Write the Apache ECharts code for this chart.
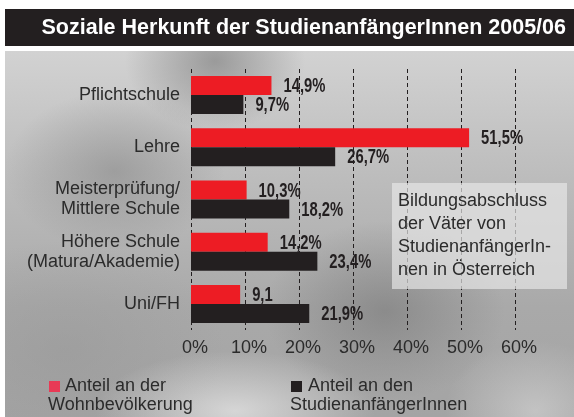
<!DOCTYPE html>
<html>
<head>
<meta charset="utf-8">
<script src="https://cdn.jsdelivr.net/npm/echarts@6/dist/echarts.min.js"></script>
<style>
    html, body { margin: 0; padding: 0; background: #fff; }
    #wrap { position: relative; width: 574px; height: 417px; background: #fff; overflow: hidden; }
    /* grauer Fotohintergrund, grob nachgebaut */
    #panel {
        position: absolute; left: 5px; top: 51px; width: 569px; height: 366px;
        background:
            radial-gradient(ellipse 90px 70px at 210px 10px, rgba(110,110,110,.55), rgba(110,110,110,0)),
            radial-gradient(ellipse 110px 80px at 110px 120px, rgba(120,120,120,.45), rgba(120,120,120,0)),
            radial-gradient(ellipse 140px 60px at 230px 360px, rgba(235,235,235,.7), rgba(235,235,235,0)),
            radial-gradient(ellipse 120px 90px at 380px 260px, rgba(110,110,110,.5), rgba(110,110,110,0)),
            radial-gradient(ellipse 90px 70px at 530px 360px, rgba(220,220,220,.55), rgba(220,220,220,0)),
            radial-gradient(ellipse 160px 110px at 60px 300px, rgba(150,150,150,.5), rgba(150,150,150,0)),
            linear-gradient(to bottom, #d2d2d2 0%, #bcbcbc 35%, #a9a9a9 70%, #a4a4a4 100%);
    }
    #chart { position: absolute; left: 0; top: 0; width: 574px; height: 417px; }
</style>
</head>
<body>
<div id="wrap">
    <div id="panel"></div>
    <div id="chart"></div>
</div>
<script>
    // Daten
    var categories = ['Pflichtschule', 'Lehre', 'Meisterprüfung/\nMittlere Schule', 'Höhere Schule\n(Matura/Akademie)', 'Uni/FH'];
    var popValues = [14.9, 51.5, 10.3, 14.2, 9.1];     // Anteil an der Wohnbevölkerung
    var stuValues = [9.7, 26.7, 18.2, 23.4, 21.9];     // Anteil an den StudienanfängerInnen
    var popLabels = ['14,9%', '51,5%', '10,3%', '14,2%', '9,1'];
    var stuLabels = ['9,7%', '26,7%', '18,2%', '23,4%', '21,9%'];
    var xTicks = [0, 60, 10]; // min, max, interval

    var RED = '#ed1c24';
    var BLACK = '#231f20';
    var TXT = '#2b2b2b';
    var FONT = '"Liberation Sans", Arial, sans-serif';
    var BAR_W = 19;

    var myChart = echarts.init(document.getElementById('chart'));

    // schmale fette Wertebeschriftung (Schrift wird horizontal gestaucht)
    function labelSeries(values, texts, shift) {
        return {
            type: 'custom',
            silent: true,
            z: 4,
            data: values.map(function (v, i) { return [v, i]; }),
            encode: { x: 0, y: 1 },
            renderItem: function (params, api) {
                var pt = api.coord([api.value(0), api.value(1)]);
                return {
                    type: 'text',
                    x: pt[0] + 12,
                    y: pt[1] + shift,
                    scaleX: 0.74,
                    style: {
                        text: texts[params.dataIndex],
                        font: 'bold 20px ' + FONT,
                        fill: BLACK,
                        align: 'left',
                        verticalAlign: 'middle'
                    }
                };
            }
        };
    }

    myChart.setOption({
        animation: false,
        title: {
            text: 'Soziale Herkunft der StudienanfängerInnen 2005/06',
            right: 8,
            top: 16,
            padding: 0,
            textStyle: {
                color: '#fff',
                fontFamily: FONT,
                fontWeight: 'bold',
                fontSize: 21.5,
                lineHeight: 24
            },
            z: 10
        },
        grid: {
            left: 191,
            right: 59,
            top: 69,
            bottom: 87,
            outerBoundsMode: 'none'
        },
        xAxis: {
            type: 'value',
            min: xTicks[0],
            max: xTicks[1],
            interval: xTicks[2],
            axisLine: { show: false },
            axisTick: { show: false },
            axisLabel: {
                formatter: '{value}%',
                color: TXT,
                fontFamily: FONT,
                fontSize: 18,
                margin: 9,
                padding: [0, 0, 0, 8]
            },
            splitLine: {
                show: true,
                lineStyle: { color: BLACK, width: 1, type: [4, 3] }
            }
        },
        yAxis: {
            type: 'category',
            inverse: true,
            data: categories,
            axisLine: { show: false },
            axisTick: { show: false },
            axisLabel: {
                color: TXT,
                fontFamily: FONT,
                fontSize: 18,
                lineHeight: 20,
                margin: 11,
                align: 'right'
            }
        },
        series: [{
            name: 'Anteil an der Wohnbevölkerung',
            type: 'bar',
            data: popValues,
            barWidth: BAR_W,
            barGap: '0%',
            itemStyle: { color: RED }
        }, {
            name: 'Anteil an den StudienanfängerInnen',
            type: 'bar',
            data: stuValues,
            barWidth: BAR_W,
            barGap: '0%',
            itemStyle: { color: BLACK }
        },
            labelSeries(popValues, popLabels, -BAR_W / 2 + 1),
            labelSeries(stuValues, stuLabels, BAR_W / 2 + 1)
        ],
        graphic: [
            // Titelbalken
            { type: 'rect', left: 5, top: 9, z: 0, shape: { width: 569, height: 37 }, style: { fill: BLACK } },
            // Infobox
            { type: 'rect', left: 392, top: 183, z: 5, shape: { width: 175, height: 106 }, style: { fill: 'rgba(232,232,232,0.68)' } },
            { type: 'text', left: 398, top: 190, z: 6, style: {
                text: 'Bildungsabschluss\nder Väter von\nStudienanfängerIn-\nnen in Österreich',
                fill: TXT, font: '18px ' + FONT, lineHeight: 23 } },
            // Legende
            { type: 'rect', left: 49, top: 381, z: 5, shape: { width: 11, height: 11 }, style: { fill: '#e83a55' } },
            { type: 'text', left: 65, top: 377, z: 6, style: { text: 'Anteil an der', fill: TXT, font: '18px ' + FONT } },
            { type: 'text', left: 48, top: 396, z: 6, style: { text: 'Wohnbevölkerung', fill: TXT, font: '18px ' + FONT } },
            { type: 'rect', left: 291, top: 381, z: 5, shape: { width: 11, height: 11 }, style: { fill: BLACK } },
            { type: 'text', left: 308, top: 377, z: 6, style: { text: 'Anteil an den', fill: TXT, font: '18px ' + FONT } },
            { type: 'text', left: 290, top: 396, z: 6, style: { text: 'StudienanfängerInnen', fill: TXT, font: '18px ' + FONT } }
        ]
    });

    window.addEventListener('resize', function () {
        myChart.resize();
    });
</script>
</body>
</html>
